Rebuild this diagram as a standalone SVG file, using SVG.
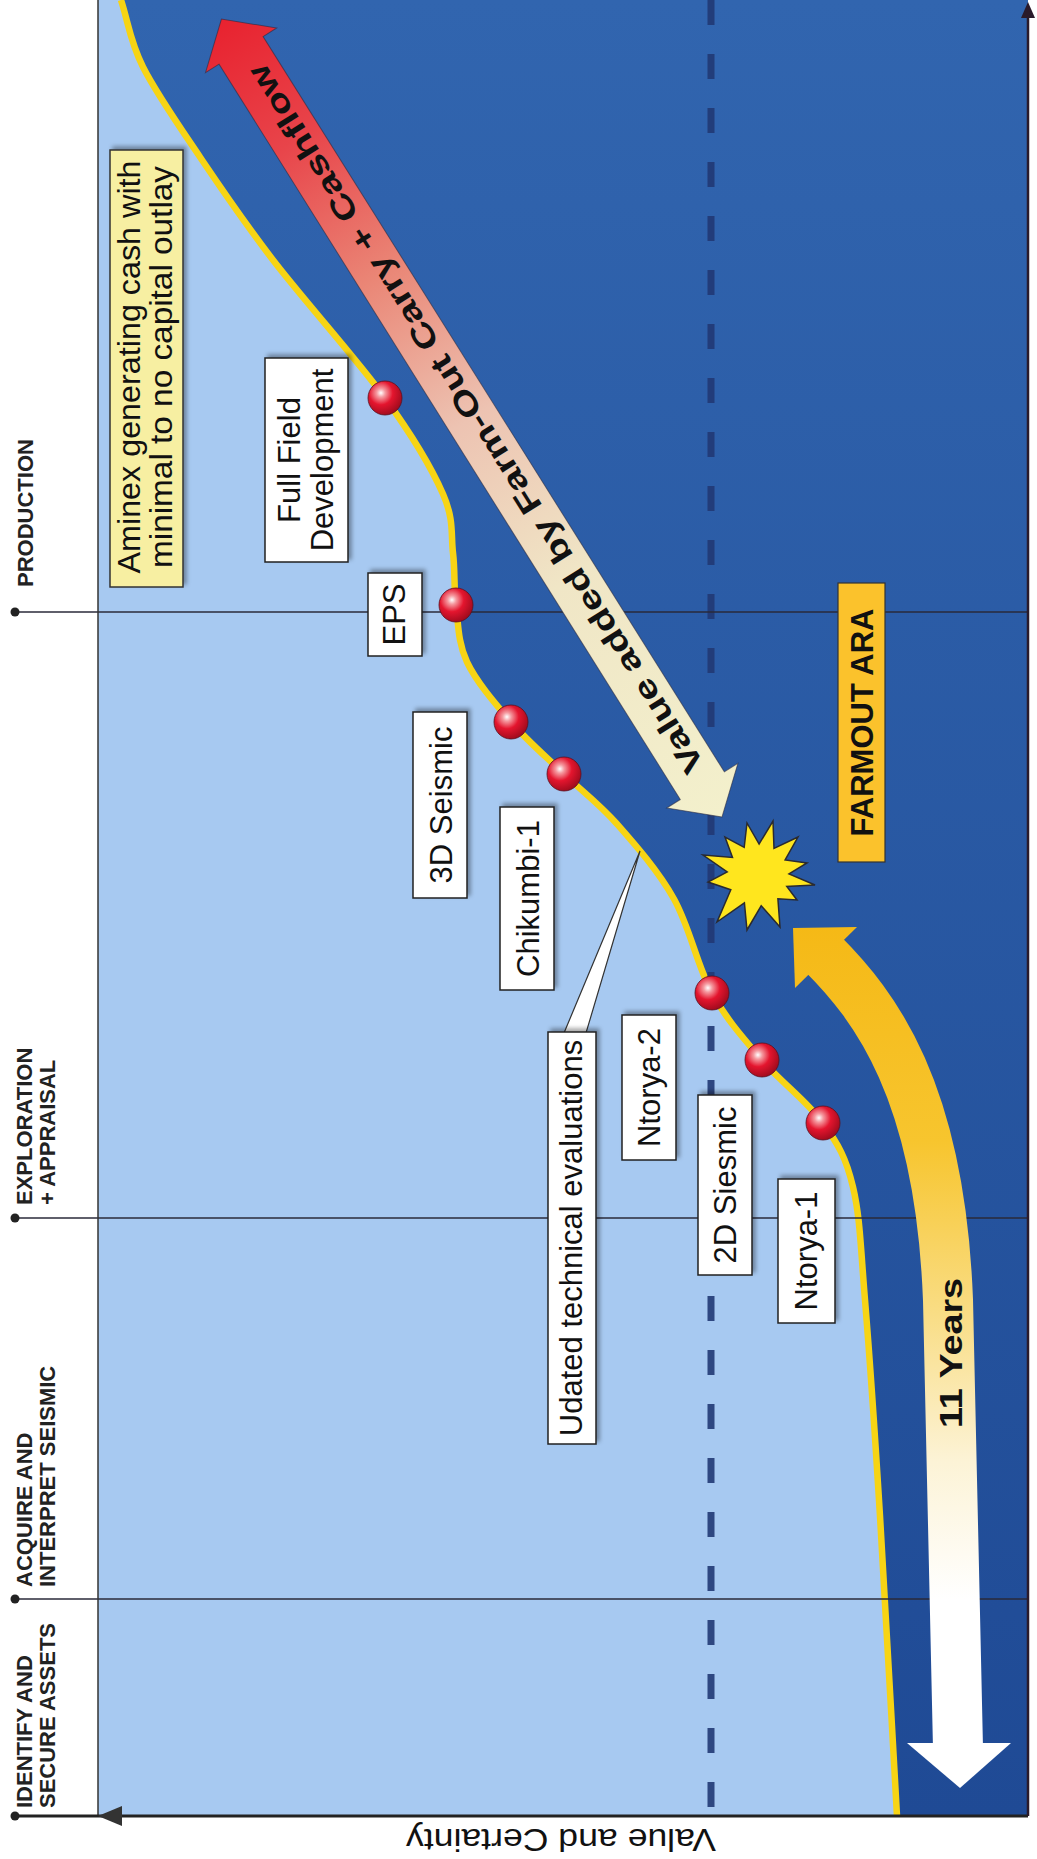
<svg xmlns="http://www.w3.org/2000/svg" width="1037" height="1859" viewBox="0 0 1037 1859">
<defs>
<linearGradient id="dark" x1="0" y1="0" x2="0" y2="1"><stop offset="0" stop-color="#3165AF"/><stop offset="1" stop-color="#1F4A95"/></linearGradient>
<linearGradient id="valgrad" gradientUnits="userSpaceOnUse" x1="0" y1="0" x2="942" y2="0">
<stop offset="0" stop-color="#F3F0CC"/><stop offset="0.3" stop-color="#F0E6C6"/><stop offset="0.5" stop-color="#EDC3B2"/><stop offset="0.68" stop-color="#EA8676"/><stop offset="0.85" stop-color="#E8444A"/><stop offset="1" stop-color="#E8222F"/>
</linearGradient>
<linearGradient id="yrgrad" gradientUnits="userSpaceOnUse" x1="0" y1="925" x2="0" y2="1790">
<stop offset="0" stop-color="#F5B916"/><stop offset="0.25" stop-color="#F7C52E"/><stop offset="0.45" stop-color="#F9DD85"/><stop offset="0.62" stop-color="#FCF3D6"/><stop offset="0.78" stop-color="#FFFFFF"/><stop offset="1" stop-color="#FFFFFF"/>
</linearGradient>
<radialGradient id="ballg" cx="0.38" cy="0.35" r="0.7">
<stop offset="0" stop-color="#FFFFFF"/><stop offset="0.18" stop-color="#F59AA0"/><stop offset="0.5" stop-color="#E4152E"/><stop offset="1" stop-color="#9A0A1C"/>
</radialGradient>
<filter id="sh" x="-30%" y="-30%" width="160%" height="160%"><feDropShadow dx="3" dy="-3" stdDeviation="2" flood-color="#000" flood-opacity="0.35"/></filter>
<style>
.lbl{font-family:"Liberation Sans",Arial,sans-serif;font-size:31px;fill:#111}
.box{fill:#fff;stroke:#222;stroke-width:1.5}
.ph{font-family:"Liberation Sans",Arial,sans-serif;font-size:22px;font-weight:bold;fill:#222}
.pline{stroke:#2a2a3a;stroke-width:1.5}
.ball{fill:url(#ballg);stroke:#5a1020;stroke-width:0.8}
.b{font-weight:bold}
</style>
</defs>
<rect x="0" y="0" width="1037" height="1859" fill="#fff"/>
<g id="plot">
<rect x="98" y="0" width="930" height="1816" fill="url(#dark)"/>
<path d="M98,0 L121,0 C128.3,22.3 129.8,40.8 143,67 C156.2,93.2 178.3,124.8 200,157 C221.7,189.2 242.2,219.8 273,260 C303.8,300.2 356.7,359 385,398 C413.3,437 431.7,468.2 443,494 C454.3,519.8 450.8,534.5 453,553 C455.2,571.5 453.7,586.8 456,605 C458.3,623.2 457.8,642.5 467,662 C476.2,681.5 494.8,703.3 511,722 C527.2,740.7 546.3,757 564,774 C581.7,791 598.7,803.2 617,824 C635.3,844.8 658.2,870.8 674,899 C689.8,927.2 697.3,966.2 712,993 C726.7,1019.8 743.5,1038.3 762,1060 C780.5,1081.7 807.8,1101.8 823,1123 C838.2,1144.2 846,1157.5 853,1187 C860,1216.5 860.5,1245.2 865,1300 C869.5,1354.8 874.7,1430 880,1516 C885.3,1602 891.3,1716 897,1816 L98,1816 Z" fill="#A7C9F1"/>
<path d="M121,0 C128.3,22.3 129.8,40.8 143,67 C156.2,93.2 178.3,124.8 200,157 C221.7,189.2 242.2,219.8 273,260 C303.8,300.2 356.7,359 385,398 C413.3,437 431.7,468.2 443,494 C454.3,519.8 450.8,534.5 453,553 C455.2,571.5 453.7,586.8 456,605 C458.3,623.2 457.8,642.5 467,662 C476.2,681.5 494.8,703.3 511,722 C527.2,740.7 546.3,757 564,774 C581.7,791 598.7,803.2 617,824 C635.3,844.8 658.2,870.8 674,899 C689.8,927.2 697.3,966.2 712,993 C726.7,1019.8 743.5,1038.3 762,1060 C780.5,1081.7 807.8,1101.8 823,1123 C838.2,1144.2 846,1157.5 853,1187 C860,1216.5 860.5,1245.2 865,1300 C869.5,1354.8 874.7,1430 880,1516 C885.3,1602 891.3,1716 897,1816" fill="none" stroke="#F7D414" stroke-width="6.5"/>
<line x1="711" y1="0" x2="711" y2="1816" stroke="#213874" stroke-opacity="0.9" stroke-width="7" stroke-dasharray="25 29"/>
</g>
<g id="phases">
<line class="pline" x1="15" y1="612" x2="1028" y2="612"/>
<line class="pline" x1="15" y1="1218" x2="1028" y2="1218"/>
<line class="pline" x1="15" y1="1599" x2="1028" y2="1599"/>
<circle cx="15" cy="612" r="4.5" fill="#222"/>
<circle cx="15" cy="1218" r="4.5" fill="#222"/>
<circle cx="15" cy="1599" r="4.5" fill="#222"/>
<circle cx="15" cy="1816" r="4.5" fill="#222"/>
<text class="ph" transform="translate(33,587) rotate(-90)">PRODUCTION</text>
<text class="ph" transform="translate(32,1205) rotate(-90)">EXPLORATION</text>
<text class="ph" transform="translate(55,1205) rotate(-90)">+ APPRAISAL</text>
<text class="ph" transform="translate(32,1587) rotate(-90)">ACQUIRE AND</text>
<text class="ph" transform="translate(55,1587) rotate(-90)">INTERPRET SEISMIC</text>
<text class="ph" transform="translate(32,1808) rotate(-90)">IDENTIFY AND</text>
<text class="ph" transform="translate(55,1808) rotate(-90)">SECURE ASSETS</text>
</g>
<g id="axes">
<line x1="98" y1="0" x2="98" y2="1816" stroke="#333" stroke-width="1.5"/>
<line x1="15" y1="1816" x2="1028" y2="1816" stroke="#222" stroke-width="3"/>
<polygon points="98,1816 122,1806 122,1826" fill="#333"/>
<line x1="1028" y1="1816" x2="1028" y2="14" stroke="#2a1a2a" stroke-width="2.5"/>
<polygon points="1028,2 1021,18 1035,18" fill="#2a1a2a"/>
<text class="lbl" font-size="34" textLength="310" lengthAdjust="spacingAndGlyphs" transform="translate(716,1829) rotate(180)">Value and Certainty</text>
</g>
<g id="connectors">
<g id="value-arrow" transform="translate(722,817) rotate(-122.1)">
<polygon points="0,0 37,-42 37,-26 905,-26 905,-42 942,0 905,42 905,26 37,26 37,42" fill="url(#valgrad)" stroke="#2a2a40" stroke-opacity="0.6" stroke-width="1"/>
<text class="lbl b" font-size="38" x="468" y="13.5" text-anchor="middle" textLength="830" lengthAdjust="spacingAndGlyphs">Value added by Farm-Out Carry + Cashflow</text>
</g>
<g id="years-arrow">
<path d="M822,953 C875,1006 940,1090 948,1300 L958,1748" fill="none" stroke="url(#yrgrad)" stroke-width="50"/>
<polygon points="793,928 857,927 795,988" fill="url(#yrgrad)"/>
<polygon points="907,1743 1011,1743 960,1788" fill="url(#yrgrad)"/>
<text class="lbl b" font-size="36" text-anchor="middle" textLength="150" lengthAdjust="spacingAndGlyphs" transform="translate(962,1353) rotate(-90)">11 Years</text>
</g>
<polygon id="callout" points="564,1033 640,851 586,1033" fill="#fff" stroke="#333" stroke-width="1.2"/>
</g>
<g id="star">
<polygon points="703,855 732.5,857.5 725,837 744.2,847.3 747,823 759.1,844 773,821 774,848.4 798,837 785.1,860 807,863 789,873.9 815,885 786.8,886.4 797,900 777.9,898.7 780,927 761.2,905.8 747,930 744.4,902.9 717,922 730.8,889.8 708,882 727.2,871.8" fill="#FFE61E" stroke="#2a2a30" stroke-width="1.5" stroke-linejoin="miter"/>
</g>
<g id="balls">
<circle class="ball" cx="385" cy="398" r="17"/>
<circle class="ball" cx="456" cy="605" r="17"/>
<circle class="ball" cx="511" cy="722" r="17"/>
<circle class="ball" cx="564" cy="774" r="17"/>
<circle class="ball" cx="712" cy="993" r="17"/>
<circle class="ball" cx="762" cy="1060" r="17"/>
<circle class="ball" cx="823" cy="1123" r="17"/>
</g>
<g id="aminex">
<rect x="110" y="150" width="73" height="437" fill="#F7EFA2" stroke="#333" stroke-width="1.5" filter="url(#sh)"/>
<text class="lbl" font-size="32" text-anchor="middle" textLength="413" lengthAdjust="spacingAndGlyphs" transform="translate(140,367) rotate(-90)">Aminex generating cash with</text>
<text class="lbl" font-size="32" text-anchor="middle" textLength="402" lengthAdjust="spacingAndGlyphs" transform="translate(172,367) rotate(-90)">minimal to no capital outlay</text>
</g>
<g id="full-field">
<rect class="box" x="265" y="358" width="83" height="204" filter="url(#sh)"/>
<text class="lbl" font-size="30" text-anchor="middle" transform="translate(300,460) rotate(-90)">Full Field</text>
<text class="lbl" font-size="30" text-anchor="middle" transform="translate(333,460) rotate(-90)">Development</text>
</g>
<g id="eps">
<rect class="box" x="368" y="573" width="54" height="83" filter="url(#sh)"/>
<text class="lbl" font-size="30" text-anchor="middle" transform="translate(405,614.5) rotate(-90)">EPS</text>
</g>
<g id="seismic3d">
<rect class="box" x="413" y="712" width="54" height="186" filter="url(#sh)"/>
<text class="lbl" text-anchor="middle" transform="translate(452,805) rotate(-90)">3D Seismic</text>
</g>
<g id="chikumbi">
<rect class="box" x="500" y="807" width="54" height="183" filter="url(#sh)"/>
<text class="lbl" text-anchor="middle" transform="translate(539,898.5) rotate(-90)">Chikumbi-1</text>
</g>
<g id="udated">
<rect class="box" x="548" y="1032" width="48" height="412" filter="url(#sh)"/>
<text class="lbl" text-anchor="middle" transform="translate(582,1238) rotate(-90)">Udated technical evaluations</text>
</g>
<g id="ntorya2">
<rect class="box" x="622" y="1015" width="54" height="145" filter="url(#sh)"/>
<text class="lbl" text-anchor="middle" transform="translate(660,1087.5) rotate(-90)">Ntorya-2</text>
</g>
<g id="seismic2d">
<rect class="box" x="698" y="1095" width="54" height="180" filter="url(#sh)"/>
<text class="lbl" text-anchor="middle" transform="translate(736,1185) rotate(-90)">2D Siesmic</text>
</g>
<g id="ntorya1">
<rect class="box" x="778" y="1179" width="57" height="144" filter="url(#sh)"/>
<text class="lbl" text-anchor="middle" transform="translate(817,1251) rotate(-90)">Ntorya-1</text>
</g>
<g id="farmout">
<rect x="838" y="583" width="47" height="279" fill="#FBC22C" stroke="#333" stroke-width="1.2"/>
<text class="lbl b" font-size="32" text-anchor="middle" transform="translate(873,722.5) rotate(-90)">FARMOUT ARA</text>
</g>
</svg>
